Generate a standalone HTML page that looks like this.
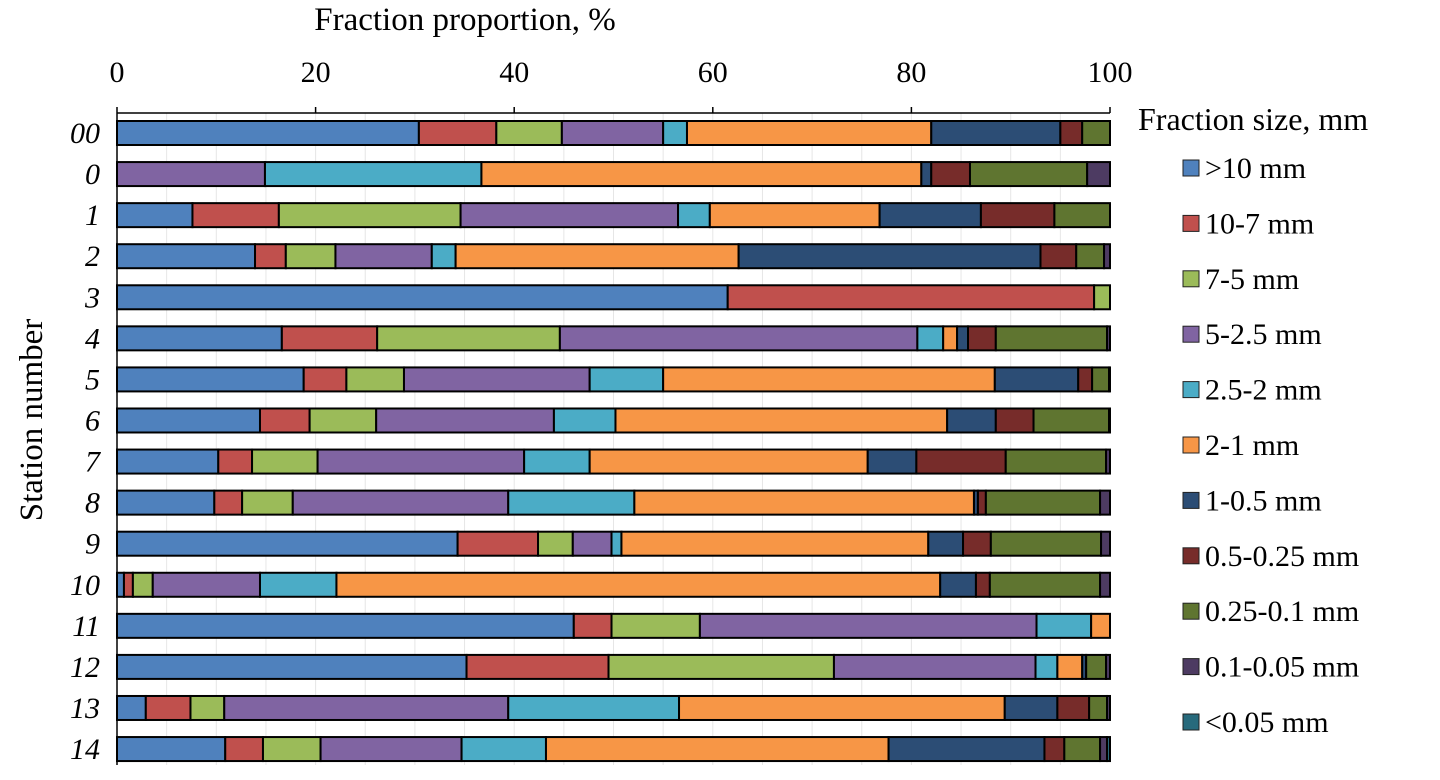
<!DOCTYPE html>
<html><head><meta charset="utf-8"><style>
html,body{margin:0;padding:0;background:#fff;}
svg{display:block;font-family:"Liberation Serif",serif;}
</style></head><body>
<svg id="chart" width="1440" height="780" viewBox="0 0 1440 780">
<text x="465" y="30" font-size="33" text-anchor="middle">Fraction proportion, %</text>
<text transform="translate(42,420) rotate(-90)" font-size="33" text-anchor="middle">Station number</text>
<text x="1138" y="130" font-size="32">Fraction size, mm</text>
<g id="grid"></g><g id="bars"></g><g id="axes"></g><g id="legend"></g>
</svg>
<script>
const stations = ["00","0","1","2","3","4","5","6","7","8","9","10","11","12","13","14"];
const fractions = [">10 mm","10-7 mm","7-5 mm","5-2.5 mm","2.5-2 mm","2-1 mm","1-0.5 mm","0.5-0.25 mm","0.25-0.1 mm","0.1-0.05 mm","<0.05 mm"];
const colors = ["#4f81bd","#c0504d","#9bbb59","#8064a2","#4bacc6","#f79646","#2c4d75","#772c2a","#5f7530","#4d3b62","#276a7c"];
const xTicks = [0,20,40,60,80,100];
const s00 = [30.4,7.8,6.6,10.2,2.4,24.6,13.0,2.2,2.8,0,0];
const s0  = [0,0,0,14.9,21.8,44.3,1.0,3.9,11.8,2.3,0];
const s1  = [7.6,8.7,18.3,21.9,3.2,17.1,10.2,7.4,5.6,0,0];
const s2  = [13.9,3.1,5.0,9.7,2.4,28.5,30.4,3.6,2.8,0.6,0];
const s3  = [61.5,36.9,1.6,0,0,0,0,0,0,0,0];
const s4  = [16.6,9.6,18.4,36.0,2.6,1.4,1.1,2.8,11.2,0.3,0];
const s5  = [18.8,4.3,5.8,18.7,7.4,33.4,8.4,1.4,1.7,0.1,0];
const s6  = [14.4,5.0,6.7,17.9,6.2,33.4,4.9,3.8,7.6,0.1,0];
const s7  = [10.2,3.4,6.6,20.8,6.6,28.0,4.9,9.0,10.1,0.4,0];
const s8  = [9.8,2.8,5.1,21.7,12.7,34.2,0.4,0.8,11.5,1.0,0];
const s9  = [34.3,8.1,3.5,3.9,1.0,30.9,3.5,2.8,11.1,0.9,0];
const s10 = [0.7,0.9,2.0,10.8,7.7,60.8,3.6,1.4,11.1,1.0,0];
const s11 = [46.0,3.8,8.9,33.9,5.5,1.9,0,0,0,0,0];
const s12 = [35.2,14.3,22.7,20.3,2.2,2.5,0.4,0,2.0,0.4,0];
const s13 = [2.9,4.5,3.4,28.6,17.2,32.8,5.3,3.2,1.8,0.3,0];
const s14 = [10.9,3.8,5.8,14.2,8.5,34.5,15.7,2.0,3.6,0.7,0.3];
const series = [s00,s0,s1,s2,s3,s4,s5,s6,s7,s8,s9,s10,s11,s12,s13,s14];

const NS="http://www.w3.org/2000/svg";
const X0=117,X1=1110,TOP=113,BOT=765,ROW0=133,ROWSTEP=41.07,BH=24;
const xs=v=>X0+(X1-X0)*v/100;
const ys=i=>ROW0+ROWSTEP*i;
function mk(tag,attrs,parent){const e=document.createElementNS(NS,tag);for(const k in attrs)e.setAttribute(k,attrs[k]);parent.appendChild(e);return e;}
const grid=document.getElementById('grid'),bars=document.getElementById('bars'),axes=document.getElementById('axes'),leg=document.getElementById('legend');
for(let v=5;v<100;v+=5){const g=mk('line',{x1:xs(v),x2:xs(v),y1:TOP,y2:BOT,stroke:'#e6e6e6','stroke-width':1},grid);

}
series.forEach((vals,i)=>{
  const y=ys(i)-BH/2;let acc=0;
  const bg=mk('g',{},bars);
  
  
  vals.forEach((v,j)=>{ if(v<=0){return;}
    const r=mk('rect',{x:xs(acc),y:y,width:xs(acc+v)-xs(acc),height:BH,fill:colors[j],stroke:'#000','stroke-width':2},bg);
    
    
    acc+=v;});
  const t=mk('text',{x:100,y:ys(i)+10,'font-size':30,'font-style':'italic','text-anchor':'end'},axes);
  t.textContent=stations[i];
  
  
});
const ax=mk('line',{x1:X0,x2:X1,y1:TOP,y2:TOP,stroke:'#000','stroke-width':1.5},axes);


const ay=mk('line',{x1:X0,x2:X0,y1:TOP,y2:BOT,stroke:'#000','stroke-width':1.5},axes);


xTicks.forEach(v=>{
  const tk=mk('line',{x1:xs(v),x2:xs(v),y1:TOP-6,y2:TOP,stroke:'#000','stroke-width':1.5},axes);
  
  
  const t=mk('text',{x:xs(v),y:82,'font-size':30,'text-anchor':'middle'},axes);
  t.textContent=v;
  
  
});
fractions.forEach((f,j)=>{
  const cy=168+55.4*j;
  const g=mk('g',{},leg);
  
  
  mk('rect',{x:1183,y:cy-8,width:16,height:16,fill:colors[j],stroke:'#222','stroke-width':1},g);
  const t=mk('text',{x:1205,y:cy+10,'font-size':30},g);
  t.textContent=f;
});
</script>
</body></html>
